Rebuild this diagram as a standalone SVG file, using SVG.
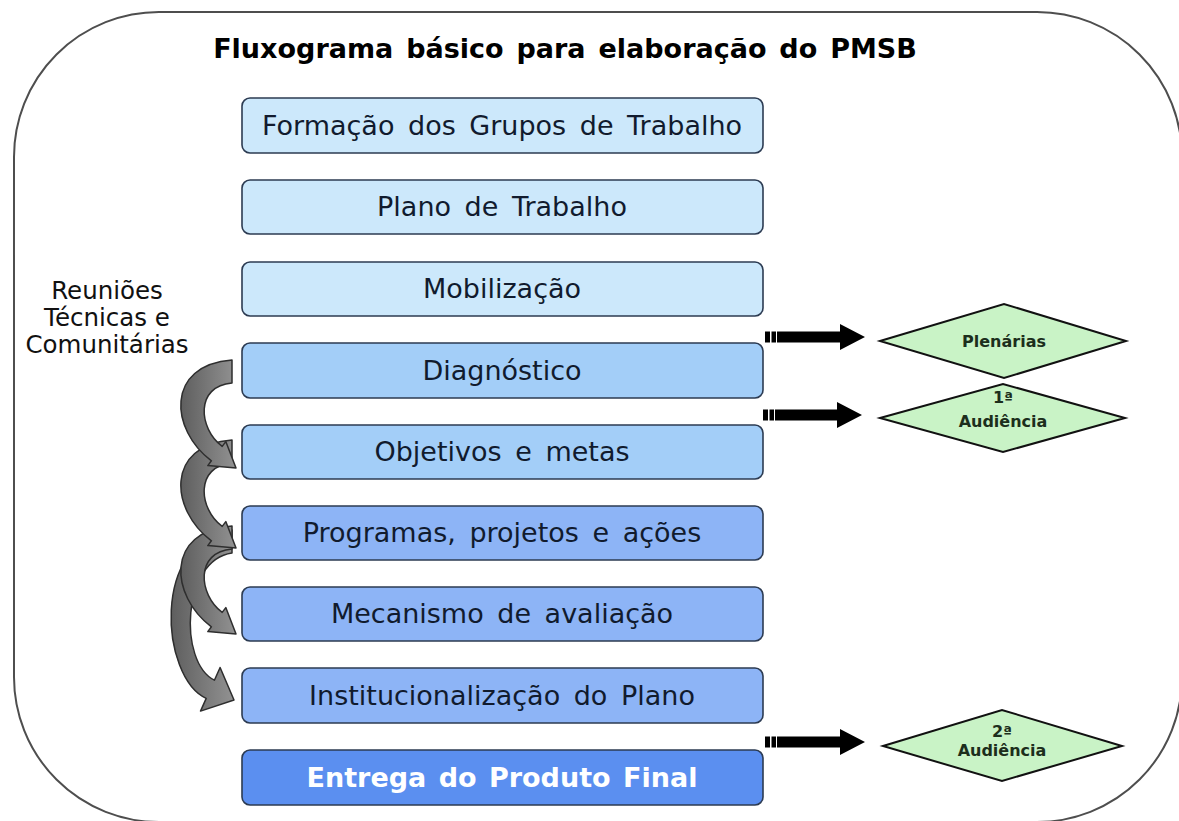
<svg xmlns="http://www.w3.org/2000/svg" width="1179" height="821" viewBox="0 0 1179 821">
<defs>
<style>
.box{stroke:#2c3b52;stroke-width:1.6}
.b1{fill:#cce8fb}
.b2{fill:#a3cef8}
.b3{fill:#8db4f6}
.b4{fill:#5b8ff0}
.bt{font-family:"DejaVu Sans",Verdana,sans-serif;font-size:27px;word-spacing:5px;fill:#111b2e;text-anchor:middle}
.bt4{font-family:"DejaVu Sans",Verdana,sans-serif;font-size:27px;word-spacing:3px;font-weight:bold;fill:#ffffff;text-anchor:middle}
.dia{fill:#c9f3c6;stroke:#111;stroke-width:2}
.dt{font-family:"DejaVu Sans",Verdana,sans-serif;font-size:16px;font-weight:bold;fill:#1c2e1c;text-anchor:middle}
.curve{fill:url(#g);stroke:#2e2e2e;stroke-width:1.5;stroke-linejoin:round}
.blk{fill:#000}
</style>
<linearGradient id="g" x1="0" y1="0" x2="1" y2="0">
<stop offset="0" stop-color="#5e5e5e"/>
<stop offset="1" stop-color="#929292"/>
</linearGradient>
</defs>
<rect x="0" y="0" width="1179" height="821" fill="#ffffff"/>
<rect id="frame" x="14" y="12" width="1168" height="810" rx="145" ry="145" fill="none" stroke="#4e4e4e" stroke-width="2"/>
<text id="title" x="565" y="58" font-family="'DejaVu Sans',Verdana,sans-serif" font-size="27" font-weight="bold" word-spacing="3.5" fill="#000" text-anchor="middle">Fluxograma básico para elaboração do PMSB</text>

<g id="label-reunioes" font-family="'DejaVu Sans',Verdana,sans-serif" font-size="24.5" fill="#111" text-anchor="middle">
<text x="107" y="299">Reuniões</text>
<text x="107" y="326">Técnicas e</text>
<text x="107" y="353">Comunitárias</text>
</g>

<g id="connectors">
<path class="curve" d="M232,530 C150,540 160.7,677.9 206.2,698.4 L200.5,711.1 L234,700 L220.1,667.5 L214.4,680.2 C178,662 182,560 232,553 Z"/>
<path class="curve" transform="translate(0,166)" d="M232,360 C165,365 170,430 211.4,460.8 L207.8,465.6 L236,468 L225.8,441.6 L222.2,446.4 C198.2,428.4 195,386 232,383 Z"/>
<path class="curve" transform="translate(0,80)" d="M232,360 C165,365 170,430 211.4,460.8 L207.8,465.6 L236,468 L225.8,441.6 L222.2,446.4 C198.2,428.4 195,386 232,383 Z"/>
<path class="curve" d="M232,360 C165,365 170,430 211.4,460.8 L207.8,465.6 L236,468 L225.8,441.6 L222.2,446.4 C198.2,428.4 195,386 232,383 Z"/>

<g id="arrow-plenarias">
<rect class="blk" x="765" y="331.5" width="5" height="11"/>
<rect class="blk" x="771.5" y="331.5" width="4.5" height="11"/>
<path class="blk" d="M777,331.5 H840 V324 L865,337 L840,350 V342.5 H777 Z"/>
</g>
<g id="arrow-aud1">
<rect class="blk" x="763" y="409.5" width="5" height="11"/>
<rect class="blk" x="769.5" y="409.5" width="4.5" height="11"/>
<path class="blk" d="M775,409.5 H837 V402 L862,415 L837,428 V420.5 H775 Z"/>
</g>
<g id="arrow-aud2">
<rect class="blk" x="765" y="736.5" width="5" height="11"/>
<rect class="blk" x="771.5" y="736.5" width="4.5" height="11"/>
<path class="blk" d="M777,736.5 H840 V729 L865,742 L840,755 V747.5 H777 Z"/>
</g>
</g>

<g id="n1"><rect class="box b1" x="242" y="98" width="521" height="55" rx="8"/><text class="bt" x="502" y="135">Formação dos Grupos de Trabalho</text></g>
<g id="n2"><rect class="box b1" x="242" y="180" width="521" height="54" rx="8"/><text class="bt" x="502" y="216">Plano de Trabalho</text></g>
<g id="n3"><rect class="box b1" x="242" y="262" width="521" height="54" rx="8"/><text class="bt" x="502" y="298">Mobilização</text></g>
<g id="n4"><rect class="box b2" x="242" y="343" width="521" height="55" rx="8"/><text class="bt" x="502" y="380">Diagnóstico</text></g>
<g id="n5"><rect class="box b2" x="242" y="425" width="521" height="54" rx="8"/><text class="bt" x="502" y="461">Objetivos e metas</text></g>
<g id="n6"><rect class="box b3" x="242" y="506" width="521" height="54" rx="8"/><text class="bt" x="502" y="542">Programas, projetos e ações</text></g>
<g id="n7"><rect class="box b3" x="242" y="587" width="521" height="54" rx="8"/><text class="bt" x="502" y="623">Mecanismo de avaliação</text></g>
<g id="n8"><rect class="box b3" x="242" y="668" width="521" height="55" rx="8"/><text class="bt" x="502" y="705">Institucionalização do Plano</text></g>
<g id="n9"><rect class="box b4" x="242" y="750" width="521" height="55" rx="8"/><text class="bt4" x="502" y="787">Entrega do Produto Final</text></g>

<g id="d1"><polygon class="dia" points="880,341 1004,304 1126,341 1004,378"/><text class="dt" x="1004" y="347">Plenárias</text></g>
<g id="d2"><polygon class="dia" points="880,418 1003,384 1125,418 1003,452"/><text class="dt" x="1003" y="403">1ª</text><text class="dt" x="1003" y="427">Audiência</text></g>
<g id="d3"><polygon class="dia" points="883,746 1002,710 1122,746 1002,781"/><text class="dt" x="1002" y="737">2ª</text><text class="dt" x="1002" y="756">Audiência</text></g>
</svg>
